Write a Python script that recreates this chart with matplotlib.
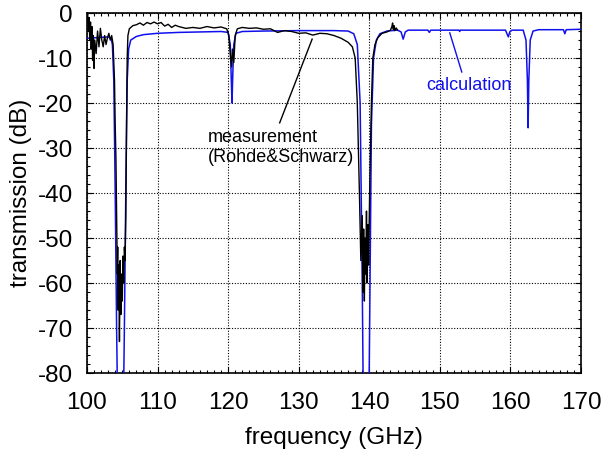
import numpy as np
import matplotlib
matplotlib.use("Agg")
import matplotlib.pyplot as plt
from matplotlib.ticker import MultipleLocator

plt.rcParams["font.family"] = ["Liberation Sans", "DejaVu Sans"]

meas_f = [100.0, 100.1, 100.2, 100.3, 100.4, 100.5, 100.6, 100.7, 100.8, 100.9,
          101.0, 101.1, 101.3, 101.5, 101.7, 101.9, 102.1, 102.3, 102.5, 102.7,
          102.9, 103.1, 103.3, 103.5, 103.7, 103.9, 104.0, 104.1, 104.2, 104.3,
          104.35, 104.4, 104.5, 104.6, 104.7, 104.8, 104.9, 105.0, 105.1, 105.2,
          105.3, 105.4, 105.5, 105.6, 105.7, 105.8, 106.0, 106.5, 107.0, 107.5,
          108.0, 108.5, 109.0, 109.5, 110.0, 110.5, 111.0, 111.5, 112.0, 112.5,
          113.0, 114.0, 115.0, 116.0, 117.0, 118.0, 119.0, 119.8, 120.1, 120.3,
          120.5, 120.6, 120.8, 121.0, 121.3, 122.0, 123.0, 124.0, 125.0, 126.0,
          127.0, 128.0, 129.0, 130.0, 131.0, 132.0, 133.0, 134.0, 135.0, 136.0,
          137.0, 137.6, 138.0, 138.3, 138.6, 138.8, 139.0, 139.1, 139.2, 139.3,
          139.4, 139.5, 139.6, 139.7, 139.8, 139.9, 140.0, 140.1, 140.3, 140.5,
          140.8, 141.2, 141.8, 142.5, 143.0, 143.2, 143.3, 143.4, 143.5, 143.6,
          143.8, 144.0]
meas_db = [-0.5, -0.2, -4.0, -1.0, -6.0, -2.0, -8.0, -3.0, -10.5, -5.0,
           -12.3, -6.0, -9.0, -4.0, -7.5, -3.4, -6.0, -7.5, -5.0, -7.0,
           -5.5, -4.5, -6.0, -5.0, -7.0, -15.0, -25.0, -32.0, -45.0, -58.0,
           -52.0, -66.0, -56.0, -73.0, -55.0, -67.0, -58.0, -64.0, -54.0, -60.0,
           -52.0, -55.0, -45.0, -25.0, -10.0, -5.0, -3.5, -2.8, -2.6, -2.2,
           -2.7, -2.1, -2.4, -2.0, -2.4, -2.1, -2.9, -2.5, -3.2, -2.7,
           -3.0, -3.4, -3.2, -3.4, -3.0, -3.3, -3.1, -3.5, -5.0, -9.0,
           -12.0, -8.0, -11.0, -5.0, -3.5, -3.2, -3.4, -3.3, -3.6, -3.5,
           -4.3, -3.9, -4.1, -4.5, -4.4, -4.9, -4.5, -4.6, -5.0, -5.6,
           -6.5, -7.5, -10.0, -20.0, -40.0, -55.0, -45.0, -62.0, -48.0, -64.0,
           -50.0, -58.0, -44.0, -60.0, -47.0, -56.0, -45.0, -35.0, -20.0, -10.0,
           -7.0, -5.5, -4.5, -4.2, -3.8, -3.0, -2.2, -3.6, -2.8, -3.9,
           -3.3, -3.8]

# ── calculation ───────────────────────────────────────────────────────────
calc_f = [100.0, 101.0, 102.0, 103.0, 103.4, 103.6, 103.8, 104.0, 104.2, 104.4,
          105.1, 105.3, 105.5, 105.7, 105.9, 106.2, 107.0, 108.0, 110.0, 113.0,
          116.0, 119.0, 120.0, 120.3, 120.45, 120.55, 120.65, 120.8, 121.1, 122.0,
          125.0, 130.0, 135.0, 137.0, 137.8, 138.3, 138.7, 139.0, 139.2, 139.9,
          140.1, 140.3, 140.6, 141.0, 141.5, 142.5, 144.0, 144.5, 144.8, 145.1,
          145.5, 148.3, 148.5, 148.7, 152.7, 152.8, 152.9, 159.3, 159.5, 159.7,
          159.9, 160.2, 161.8, 162.2, 162.4, 162.5, 162.6, 162.8, 163.2, 164.0,
          167.5, 167.7, 167.9, 170.0]
calc_db = [-5.6, -5.5, -5.4, -5.3, -5.6, -7.0, -15.0, -40.0, -70.0, -95.0,
           -95.0, -70.0, -40.0, -15.0, -8.0, -6.0, -5.2, -4.8, -4.5, -4.3,
           -4.2, -4.1, -4.3, -7.0, -15.0, -20.0, -14.0, -7.0, -4.5, -4.1,
           -4.0, -3.9, -3.9, -4.0, -4.6, -7.0, -20.0, -60.0, -95.0, -95.0,
           -60.0, -25.0, -10.0, -6.0, -4.6, -4.0, -3.8, -4.2, -5.8, -4.2,
           -3.8, -3.8, -4.3, -3.8, -3.8, -4.1, -3.8, -3.8, -4.6, -5.3,
           -4.2, -3.8, -3.8, -6.0, -15.0, -25.5, -15.0, -6.0, -4.0, -3.7,
           -3.7, -4.6, -3.7, -3.6]

x_ticks = [100, 110, 120, 130, 140, 150, 160, 170]
y_ticks = [0, -10, -20, -30, -40, -50, -60, -70, -80]

BLUE = "#1010ee"

fig = plt.figure(figsize=(6.04, 4.5), dpi=100)
ax = fig.add_axes([0.144, 0.171, 0.818, 0.800])

ax.plot(calc_f, calc_db, color=BLUE, lw=1.1, zorder=3)
ax.plot(meas_f, meas_db, color="black", lw=1.0, zorder=4)

ax.set_xlim(100, 170)
ax.set_ylim(-80, 0)
ax.set_xticks(x_ticks)
ax.set_yticks(y_ticks)
ax.set_yticklabels([str(v) for v in y_ticks])
ax.xaxis.set_minor_locator(MultipleLocator(1))
ax.yaxis.set_minor_locator(MultipleLocator(2))
ax.tick_params(which="both", direction="in", top=True, right=True, labelsize=17.5, width=0.8)
ax.tick_params(which="major", length=4)
ax.tick_params(which="minor", length=2)
ax.tick_params(axis="x", which="major", pad=14)
ax.tick_params(axis="y", which="major", pad=10)
ax.grid(True, which="major", color="black", ls=(0, (1, 1.5)), lw=0.8)
for s in ax.spines.values():
    s.set_linewidth(1.2)

ax.set_xlabel("frequency (GHz)", fontsize=17.5, labelpad=9)
ax.set_ylabel("transmission (dB)", fontsize=17.5, labelpad=4)

# annotations
ax.text(148.1, -16.2, "calculation", color=BLUE, fontsize=13, ha="left", va="center")
ax.plot([151.4, 153.1], [-4.4, -13.1], color=BLUE, lw=1.0)

ax.text(117.1, -29.8, "measurement\n(Rohde&Schwarz)", color="black", fontsize=13,
        ha="left", va="center", linespacing=1.25)
ax.plot([127.3, 131.9], [-24.4, -5.8], color="black", lw=1.0)

fig.savefig("out.png", dpi=100)
